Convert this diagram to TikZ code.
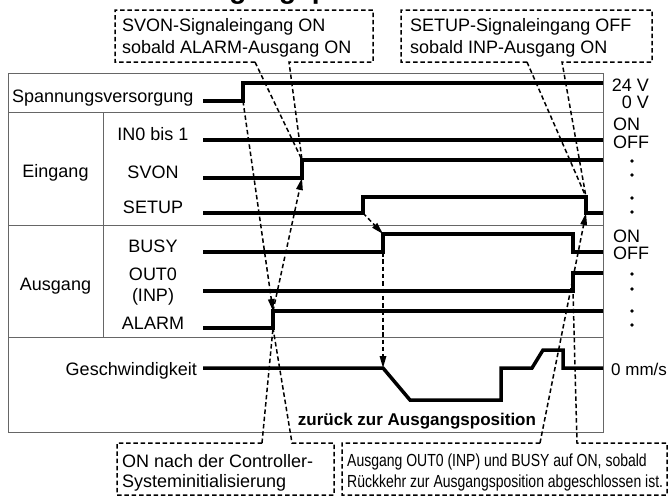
\documentclass[tikz,border=0pt]{standalone}
\usepackage{fontspec}
\setmainfont{Liberation Sans}
\newfontfamily\narrowfont[FakeStretch=0.8]{Liberation Sans}
\usetikzlibrary{arrows.meta}
\begin{document}
\begin{tikzpicture}[x=1pt,y=-1pt,
  sig/.style={line width=3.5pt, line join=miter, line cap=butt},
  gridline/.style={line width=0.8pt, draw=black!60},
  lead/.style={line width=1.5pt, dash pattern=on 4.5pt off 2.8pt},
  arr/.style={lead, -{Triangle[length=12pt,width=6.5pt]}},
  lbl/.style={font=\fontsize{18}{20}\selectfont, inner sep=0pt},
  boxtxt/.style={font=\fontsize{18}{22}\selectfont, inner sep=0pt, align=left, anchor=north west},
  narrowtxt/.style={font=\narrowfont\fontsize{17.5}{21}\selectfont, inner sep=0pt, align=left, anchor=north west},
  dot/.style={fill=black}
]
\useasboundingbox (0,0) rectangle (669,498);
\begin{scope}
  \clip (0,0) rectangle (669,498);
  \node[font=\bfseries\fontsize{28}{30}\selectfont, inner sep=0pt, anchor=base east] (title) at (421,-1.5) {Rückkehr zur Ausgangsposition};
\end{scope}

% key points
\coordinate (pwrB) at (243,101);
\coordinate (pwrT) at (243,83);
\coordinate (svonB) at (302,178);
\coordinate (svonT) at (302,160);
\coordinate (setupR) at (363,213);
\coordinate (setupRT) at (363,197);
\coordinate (setupT) at (586,197);
\coordinate (setupB) at (586,213);
\coordinate (busyB) at (383,252);
\coordinate (busyT) at (383,234);
\coordinate (busyFT) at (573,234);
\coordinate (busyFB) at (573,252);
\coordinate (outB) at (573,291);
\coordinate (outT) at (573,273);
\coordinate (alarmB) at (273,328);
\coordinate (alarmT) at (273,311);
\coordinate (speedS) at (383,368);

% frame
\draw[gridline] (8,73) rectangle (603,432);
\draw[gridline] (8,112) -- (603,112);
\draw[gridline] (8,225) -- (603,225);
\draw[gridline] (8,337) -- (603,337);
\draw[gridline] (103,112) -- (103,337);

% signals
\draw[sig] (203,101) -- (pwrB) -- (pwrT) -- (603,83);
\draw[sig] (203,140) -- (603,140);
\draw[sig] (203,178) -- (svonB) -- (svonT) -- (603,160);
\draw[sig] (203,213) -- (setupR) -- (setupRT) -- (setupT) -- (setupB) -- (603,213);
\draw[sig] (203,252) -- (busyB) -- (busyT) -- (busyFT) -- (busyFB) -- (603,252);
\draw[sig] (203,291) -- (outB) -- (outT) -- (603,273);
\draw[sig] (203,328) -- (alarmB) -- (alarmT) -- (603,311);
\draw[sig] (203,368) -- (speedS) -- (410,400) -- (501,400) -- (501,368) -- (532,368) -- (543,350) -- (563,350) -- (563,368) -- (603,368);

% left labels
\node[lbl, anchor=base west] (lpwr) at (12,102) {Spannungsversorgung};
\node[lbl, anchor=base] (lein) at (55.5,177) {Eingang};
\node[lbl, anchor=base] (laus) at (55.5,290) {Ausgang};
\node[lbl, anchor=base] (lin0) at (153,140) {IN0 bis 1};
\node[lbl, anchor=base] (lsvon) at (153,178) {SVON};
\node[lbl, anchor=base] (lsetup) at (153,213) {SETUP};
\node[lbl, anchor=base] (lbusy) at (153,252) {BUSY};
\node[lbl, anchor=base] (lout0) at (153,280) {OUT0};
\node[lbl, anchor=base] (linp) at (153,301) {(INP)};
\node[lbl, anchor=base] (lalarm) at (153,329) {ALARM};
\node[lbl, anchor=base east] (lspeed) at (197,375) {Geschwindigkeit};

% right labels
\node[lbl, anchor=base east] (r24) at (649,91) {24 V};
\node[lbl, anchor=base east] (r0) at (649,108) {0 V};
\node[lbl, anchor=base west] (ron1) at (613,130) {ON};
\node[lbl, anchor=base west] (roff1) at (613,148) {OFF};
\node[lbl, anchor=base west] (ron2) at (613,242) {ON};
\node[lbl, anchor=base west] (roff2) at (613,259) {OFF};
\node[lbl, font=\fontsize{17}{19}\selectfont, anchor=base west] (rmm) at (611,375) {0 mm/s};
\foreach \yy in {161,175,198,212,274,289,311,325} \fill[dot] (632,\yy) circle (1.8);

\node[font=\bfseries\fontsize{17}{19}\selectfont, inner sep=0pt, anchor=base] (back) at (417,425) {zurück zur Ausgangsposition};

% callout texts
\node[boxtxt] (c1) at (122,17.9) {SVON-Signaleingang ON\\sobald ALARM-Ausgang ON};
\node[boxtxt] (c2) at (410,17.9) {SETUP-Signaleingang OFF\\sobald INP-Ausgang ON};
\node[boxtxt, font=\fontsize{18}{20}\selectfont] (c3) at (122,453.9) {ON nach der Controller-\\Systeminitialisierung};
\node[narrowtxt] (c4) at (347,453.4) {Ausgang OUT0 (INP) und BUSY auf ON, sobald\\Rückkehr zur Ausgangsposition abgeschlossen ist.};

% callout outlines with leaders
\draw[lead] (255,62) -- (115,62) -- (115,10) -- (373,10) -- (373,62) -- (289,62) -- (svonT);
\draw[lead] (255,62) -- (svonT);
\draw[lead] (527,62) -- (401,62) -- (401,10) -- (652,10) -- (652,62) -- (562,62) -- (setupT);
\draw[lead] (527,62) -- (setupT);
\draw[lead] (262,443) -- (117,443) -- (117,495) -- (334,495) -- (334,443) -- (292,443) -- (alarmB);
\draw[lead] (262,443) -- (alarmB);
\draw[lead] (540,443) -- (342,443) -- (342,495) -- (667,495) -- (667,443) -- (577,443) -- (outB);
\draw[arr] (540,443) -- (setupB);

% causal arrows
\draw[arr] (pwrB) -- (alarmT);
\draw[arr] (alarmT) -- (svonB);
\draw[arr] (setupR) -- (busyT);
\draw[arr] (busyB) -- (speedS);
\end{tikzpicture}
\end{document}
